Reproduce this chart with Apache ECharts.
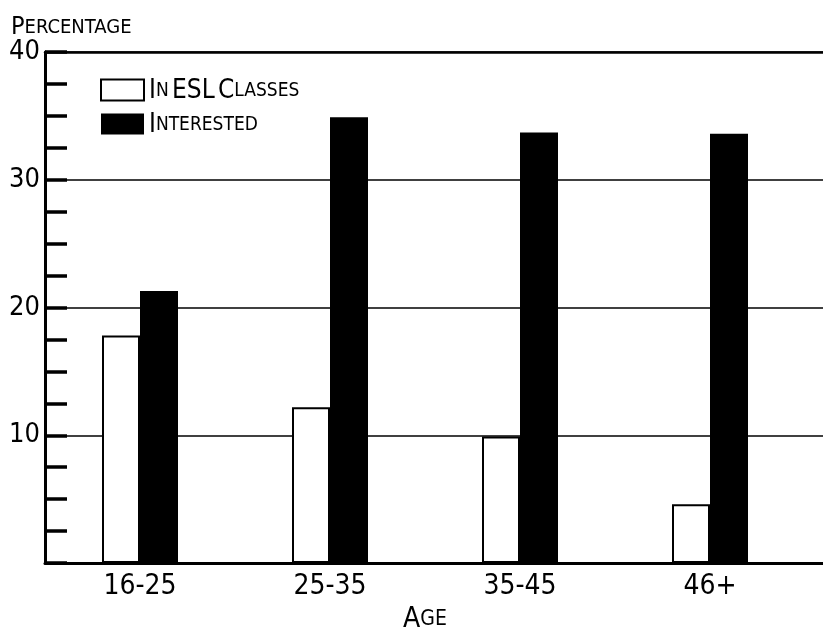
<!DOCTYPE html>
<html><head><meta charset="utf-8">
<script src="https://cdn.jsdelivr.net/npm/echarts@6/dist/echarts.min.js"></script>
<style>html,body{margin:0;padding:0;background:#fff}#c{width:823px;height:629px}</style>
</head><body><div id="c"></div>
<script>
var categories = ['16-25', '25-35', '35-45', '46+'];
var eslClasses = [17.8, 12.2, 9.9, 4.6];
var interested = [21.3, 34.9, 33.7, 33.6];
var yTicks = [0, 10, 20, 30, 40];

var FF = "'DejaVu Sans Condensed','Liberation Sans Narrow',sans-serif";
var legendRich = {
  'In ESL Classes': '{b|I}{s|N} {b|ESL} {b|C}{s|LASSES}',
  'Interested': '{b|I}{s|NTERESTED}'
};
var chart = echarts.init(document.getElementById('c'), null, {renderer: 'canvas'});
chart.setOption({
  animation: false,
  backgroundColor: '#fff',
  title: {
    text: '{b|P}{s|ERCENTAGE}',
    left: 11, top: 15, padding: 0,
    textStyle: {
      fontWeight: 'normal',
      rich: {
        b: {fontFamily: FF, fontSize: 25, fontWeight: 'normal', color: '#000'},
        s: {fontFamily: FF, fontSize: 20, fontWeight: 'normal', color: '#000'}
      }
    }
  },
  legend: {
    orient: 'vertical', left: 95, top: 73, icon: 'rect',
    itemWidth: 43, itemHeight: 21, itemGap: 8,
    data: ['In ESL Classes', 'Interested'],
    formatter: function (n) { return legendRich[n]; },
    textStyle: {
      padding: [2, 0, 0, 0],
      rich: {
        b: {fontFamily: FF, fontSize: 26, color: '#000'},
        s: {fontFamily: FF, fontSize: 19, color: '#000'}
      }
    }
  },
  grid: [
    {left: 45, right: 0, top: 52, bottom: 66, containLabel: false, outerBoundsMode: 'none'},
    {left: 45, right: 18, top: 52, bottom: 66, containLabel: false, outerBoundsMode: 'none'}
  ],
  xAxis: [
    {gridIndex: 0, type: 'value', min: 0, max: 1, show: true,
     axisLine: {show: true, onZero: false, lineStyle: {color: '#000', width: 3}},
     axisTick: {show: false}, axisLabel: {show: false}, splitLine: {show: false}},
    {gridIndex: 0, type: 'value', min: 0, max: 1, position: 'top',
     axisLine: {show: true, onZero: false, lineStyle: {color: '#000', width: 2.5}},
     axisTick: {show: false}, axisLabel: {show: false}, splitLine: {show: false}},
    {gridIndex: 1, type: 'category', data: categories,
     axisLine: {show: false}, axisTick: {show: false},
     axisLabel: {fontFamily: FF, fontSize: 28, color: '#000', margin: 10},
     name: '{b|A}{s|GE}', nameLocation: 'middle', nameGap: 34,
     nameTextStyle: {rich: {
       b: {fontFamily: FF, fontSize: 28, color: '#000'},
       s: {fontFamily: FF, fontSize: 21, color: '#000'}
     }}}
  ],
  yAxis: [
    {gridIndex: 0, type: 'value', min: yTicks[0], max: yTicks[yTicks.length - 1], interval: 10,
     axisLine: {show: true, lineStyle: {color: '#000', width: 3}},
     axisTick: {show: true, inside: true, length: 22, lineStyle: {color: '#000', width: 3.5}},
     minorTick: {show: true, splitNumber: 4, length: 22, lineStyle: {color: '#000', width: 3.5}},
     axisLabel: {fontFamily: FF, fontSize: 27, color: '#000', margin: 5,
       formatter: function (v) { return v === 0 ? '' : String(v); }},
     splitLine: {show: true, lineStyle: {color: '#000', width: 1.5}}},
    {gridIndex: 1, type: 'value', min: yTicks[0], max: yTicks[yTicks.length - 1], show: false}
  ],
  series: [
    {name: 'In ESL Classes', type: 'bar', xAxisIndex: 2, yAxisIndex: 1,
     data: eslClasses, barWidth: 38, barGap: '0%',
     itemStyle: {color: '#fff', borderColor: '#000', borderWidth: 2}},
    {name: 'Interested', type: 'bar', xAxisIndex: 2, yAxisIndex: 1,
     data: interested, barWidth: 38, barGap: '0%',
     itemStyle: {color: '#000', borderColor: '#000', borderWidth: 0}}
  ]
});
</script></body></html>
